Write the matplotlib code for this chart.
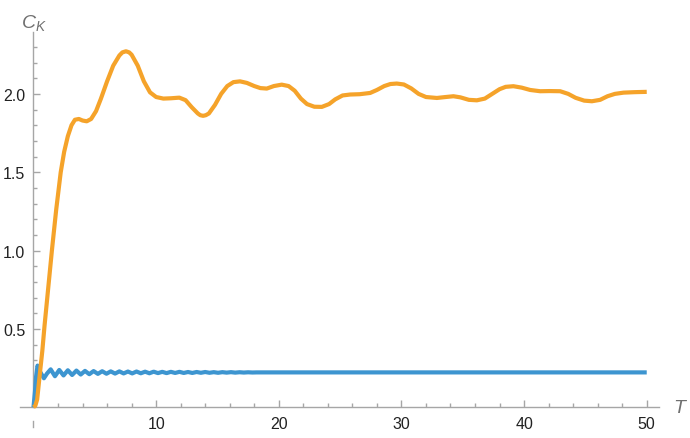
import matplotlib.pyplot as plt
from matplotlib.ticker import FixedLocator

plt.rcParams['font.family'] = ['Liberation Sans', 'DejaVu Sans']
plt.rcParams['mathtext.fontset'] = 'custom'
plt.rcParams['mathtext.it'] = 'Liberation Sans:italic'
plt.rcParams['mathtext.rm'] = 'Liberation Sans'

# orange curve
t_orange = [0, 0.15, 0.3, 0.5, 0.72, 0.9, 1.2, 1.5, 1.85, 2.22, 2.5, 2.8, 3.1, 3.38,
            3.7, 4.0, 4.34, 4.7, 5.1, 5.5, 6.0, 6.5, 7.0, 7.25, 7.54, 7.8, 8.0, 8.5, 9.0, 9.5,
            10.0, 10.59, 11.2, 11.89, 12.4, 12.9, 13.4, 13.6, 13.83, 14.05, 14.3, 14.8, 15.3, 15.8,
            16.3, 16.84, 17.4, 18.0, 18.5, 19.02, 19.6, 20.24, 20.8, 21.3, 21.8, 22.3,
            22.9, 23.51, 24.1, 24.6, 25.2, 25.82, 26.6, 27.45, 28.0, 28.6, 29.1, 29.62,
            30.2, 30.8, 31.4, 32.0, 32.89, 33.6, 34.24, 34.8, 35.5, 36.15, 36.8, 37.4,
            38.0, 38.5, 39.13, 39.8, 40.5, 41.31, 42.1, 42.94, 43.6, 44.2, 44.9, 45.53,
            46.2, 46.8, 47.4, 48.11, 49.0, 50.0]
c_orange = [0, 0.01, 0.05, 0.2, 0.36, 0.52, 0.76, 1.0, 1.26, 1.5, 1.63, 1.73, 1.8, 1.835,
            1.84, 1.83, 1.825, 1.84, 1.89, 1.97, 2.08, 2.18, 2.245, 2.265, 2.272, 2.265, 2.25, 2.18, 2.08, 2.01,
            1.98, 1.97, 1.972, 1.976, 1.96, 1.915, 1.875, 1.864, 1.86, 1.864, 1.875, 1.93, 2.0, 2.05,
            2.075, 2.08, 2.07, 2.05, 2.037, 2.034, 2.05, 2.059, 2.05, 2.02, 1.97, 1.935,
            1.918, 1.917, 1.935, 1.965, 1.99, 1.996, 1.998, 2.006, 2.025, 2.05, 2.063, 2.066,
            2.06, 2.035, 2.0, 1.98, 1.974, 1.98, 1.985, 1.978, 1.962, 1.959, 1.97, 2.0,
            2.03, 2.045, 2.049, 2.04, 2.025, 2.017, 2.018, 2.017, 2.0, 1.975, 1.957, 1.953,
            1.962, 1.985, 2.0, 2.008, 2.011, 2.013]

# blue curve: fast damped wiggle (peaks/troughs)
t_blue = [0, 0.12, 0.22, 0.33, 0.55, 0.85, 1.1, 1.4, 1.75, 2.1, 2.45, 2.8, 3.15, 3.5,
          3.85, 4.2, 4.55, 4.9, 5.25, 5.6, 5.95, 6.3, 6.65, 7.0, 7.35, 7.7, 8.05, 8.4,
          8.75, 9.1, 9.45, 9.8, 10.15, 10.5, 10.85, 11.2, 11.55, 11.9, 12.25, 12.6,
          12.95, 13.3, 13.65, 14.0, 14.35, 14.7, 15.05, 15.4, 15.75, 16.1, 16.45,
          16.8, 17.15, 17.5, 17.85, 18.2, 50.0]
c_blue = [0, 0.1, 0.2, 0.266, 0.225, 0.185, 0.215, 0.242, 0.198, 0.238, 0.203, 0.236, 0.206, 0.234,
          0.209, 0.232, 0.211, 0.231, 0.213, 0.230, 0.214, 0.229, 0.215, 0.229, 0.216, 0.228, 0.216, 0.228,
          0.217, 0.227, 0.217, 0.227, 0.218, 0.226, 0.218, 0.226, 0.219, 0.226, 0.219, 0.225,
          0.219, 0.225, 0.220, 0.225, 0.220, 0.224, 0.220, 0.224, 0.221, 0.224, 0.221,
          0.2235, 0.2215, 0.2232, 0.2218, 0.2225, 0.2225]

fig = plt.figure(figsize=(6.9, 4.39), dpi=100)
ax = fig.add_axes([20 / 690, 11 / 439, 639 / 690, 395 / 439])

ax.plot(t_blue, c_blue, color='#3d95d0', lw=3, solid_capstyle='butt',
        solid_joinstyle='round', zorder=3)
ax.plot(t_orange, c_orange, color='#f5a32a', lw=3, solid_capstyle='butt',
        solid_joinstyle='round', zorder=4)

ax.set_xlim(-1.1, 51.0)
ax.set_ylim(-0.126, 2.395)

axcol = '#a6a6a6'
for s in ['top', 'right']:
    ax.spines[s].set_visible(False)
ax.spines['left'].set_position(('data', 0))
ax.spines['bottom'].set_position(('data', 0))
ax.spines['left'].set_bounds(0, 2.395)
for s in ['left', 'bottom']:
    ax.spines[s].set_color(axcol)
    ax.spines[s].set_linewidth(1.0)
# little piece of the y axis below the origin
ax.plot([0, 0], [-0.09, -0.126], color=axcol, lw=1.0, clip_on=False)

ax.xaxis.set_major_locator(FixedLocator([10, 20, 30, 40, 50]))
ax.xaxis.set_minor_locator(FixedLocator([x for x in range(2, 51, 2) if x % 10]))
ax.yaxis.set_major_locator(FixedLocator([0.5, 1.0, 1.5, 2.0]))
ax.yaxis.set_minor_locator(FixedLocator([i / 10 for i in range(1, 24) if i % 5]))
ax.set_yticklabels(['0.5', '1.0', '1.5', '2.0'])

ax.tick_params(which='both', direction='in', color=axcol, width=1.0,
               labelsize=11.5, labelcolor='#222222')
ax.tick_params(which='major', length=5)
ax.tick_params(which='minor', length=3)
ax.tick_params(axis='x', which='major', pad=6)
ax.tick_params(axis='y', which='major', pad=6)

ax.text(0, 1.0, r'$C_K$', transform=ax.get_xaxis_transform(), fontsize=14,
        color='#707070', ha='center', va='bottom')
ax.annotate(r'$T$', xy=(1, 0), xycoords=('axes fraction', 'data'),
            xytext=(10, 0), textcoords='offset points', fontsize=14,
            color='#707070', ha='left', va='center')

fig.savefig('out.png', dpi=100)
